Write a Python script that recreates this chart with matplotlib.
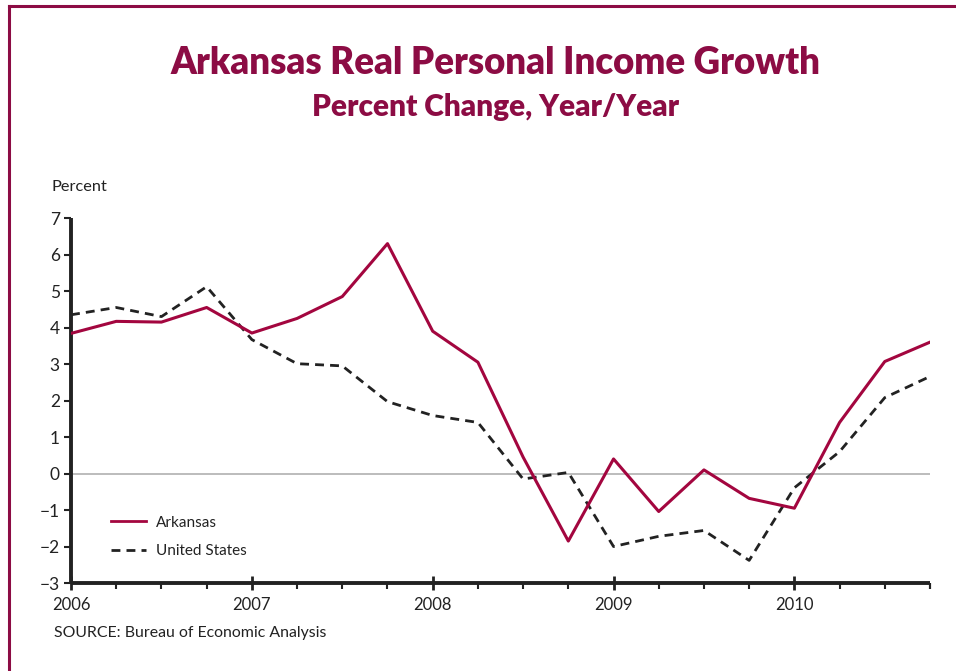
import matplotlib
matplotlib.use("Agg")
import matplotlib.pyplot as plt
from matplotlib.lines import Line2D
import numpy as np

# quarterly data, 2006Q1 .. 2010Q4
quarters = np.arange(2006, 2011, 0.25)
arkansas = [3.84, 4.17, 4.15, 4.55, 3.85, 4.25, 4.85, 6.30, 3.90, 3.05,
            0.45, -1.85, 0.40, -1.04, 0.10, -0.68, -0.95, 1.40, 3.07, 3.60]
united_states = [4.35, 4.55, 4.30, 5.12, 3.67, 3.01, 2.95, 1.97, 1.59, 1.40,
                 -0.15, 0.03, -2.00, -1.72, -1.56, -2.38, -0.39, 0.60, 2.08, 2.66]
year_ticks = [2006, 2007, 2008, 2009, 2010]
year_labels = ["2006", "2007", "2008", "2009", "2010"]
y_ticks = list(range(-3, 8))

maroon = "#8c0c44"
line_red = "#a3063f"
plt.rcParams["font.family"] = ["Lato", "DejaVu Sans"]

fig = plt.figure(figsize=(9.56, 6.71), dpi=100)
ax = fig.add_axes([0.0743, 0.1311, 0.8985, 0.5439])

ax.axhline(0, color="#b0b0b0", lw=1.2, zorder=1)
ax.plot(quarters, arkansas, color=line_red, lw=2.2, zorder=3, label="Arkansas")
ax.plot(quarters, united_states, color="#222222", lw=2.0, ls=(0, (3.2, 2.2)),
        zorder=2, label="United States")

ax.set_xlim(2006, 2010.75)
ax.set_ylim(-3, 7)
ax.set_yticks(y_ticks)
ax.set_yticklabels([str(v).replace("-", "\u2212") for v in y_ticks])
ax.set_xticks(year_ticks)
ax.set_xticklabels(year_labels)
ax.set_xticks(quarters[quarters % 1 != 0].tolist() + [2010.75], minor=True)

for s in ["top", "right"]:
    ax.spines[s].set_visible(False)
for s in ["left", "bottom"]:
    ax.spines[s].set_linewidth(2.8)
    ax.spines[s].set_color("#222222")
    ax.spines[s].set_capstyle("butt")

ax.tick_params(axis="y", direction="out", length=5, width=1.5, color="#222222",
               labelsize=12.5, labelcolor="#222222", pad=3)
ax.tick_params(axis="x", which="major", direction="inout", length=10, width=2,
               color="#222222", labelsize=12, labelcolor="#222222", pad=5)
ax.tick_params(axis="x", which="minor", direction="out", length=4, width=1.5,
               color="#222222")

leg_handles = [Line2D([], [], color=line_red, lw=2.0),
               Line2D([], [], color="#222222", lw=2.0, ls=(0, (3.2, 2.2)))]
ax.legend(leg_handles, ["Arkansas", "United States"], loc="lower left",
          bbox_to_anchor=(0.03, 0.03), frameon=False, fontsize=11,
          handlelength=2.3, handletextpad=0.65, labelspacing=0.95,
          labelcolor="#222222")

fig.text(0.518, 0.906, "Arkansas Real Personal Income Growth", ha="center",
         va="center", fontsize=26.4, fontweight="heavy", color=maroon)
fig.text(0.518, 0.841, "Percent Change, Year/Year", ha="center", va="center",
         fontsize=21.5, fontweight="heavy", color=maroon)
fig.text(0.054, 0.722, "Percent", ha="left", va="center", fontsize=11.8,
         color="#222222")
fig.text(0.057, 0.056, "SOURCE: Bureau of Economic Analysis", ha="left",
         va="center", fontsize=11.4, color="#222222")

# border on top and left
fig.add_artist(Line2D([0.0094, 1.0], [0.991, 0.991], color=maroon, lw=2.2,
                      transform=fig.transFigure))
fig.add_artist(Line2D([0.0094, 0.0094], [0.0, 0.991], color=maroon, lw=2.2,
                      transform=fig.transFigure))

fig.savefig("out.png", dpi=100)
